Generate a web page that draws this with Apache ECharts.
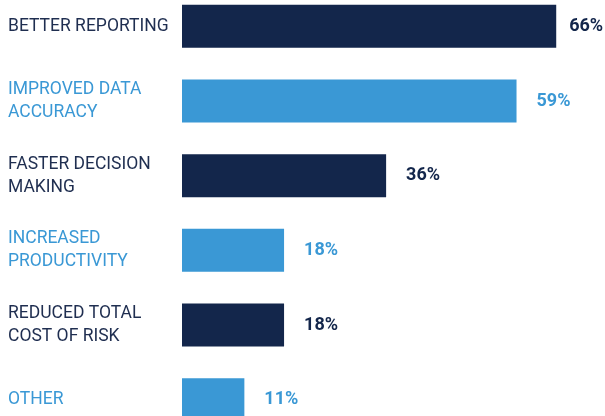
<!DOCTYPE html>
<html>
<head>
<meta charset="utf-8">
<script src="https://cdn.jsdelivr.net/npm/echarts@6/dist/echarts.min.js"></script>
<style>
  html, body { margin: 0; padding: 0; background: #ffffff; }
  #chart { width: 605px; height: 416px; }
</style>
</head>
<body>
<div id="chart"></div>
<script>
// Survey benefits, share of respondents (%)
const categories = [
  'BETTER REPORTING',
  'IMPROVED DATA\nACCURACY',
  'FASTER DECISION\nMAKING',
  'INCREASED\nPRODUCTIVITY',
  'REDUCED TOTAL\nCOST OF RISK',
  'OTHER'
];
const values = [66, 59, 36, 18, 18, 11];

// Alternating navy / light-blue rows
const NAVY = '#13264b';
const BLUE = '#3a98d5';
const NAVY_TEXT = '#1f2e50';
const rowColor = i => (i % 2 === 0 ? NAVY : BLUE);
const rowText = i => (i % 2 === 0 ? NAVY_TEXT : BLUE);

const chart = echarts.init(document.getElementById('chart'), null, { renderer: 'canvas' });

chart.setOption({
  animation: false,
  grid: {
    left: 182, top: -11, width: 567, height: 448,
    outerBoundsMode: 'none'
  },
  xAxis: {
    type: 'value', min: 0, max: 100,
    show: false
  },
  yAxis: {
    type: 'category',
    inverse: true,
    data: categories,
    axisLine: { show: false },
    axisTick: { show: false },
    splitLine: { show: false },
    axisLabel: {
      align: 'left',
      margin: 174,
      fontFamily: 'Roboto',
      fontSize: 17.5,
      lineHeight: 23,
      padding: [4, 0, 0, 0],
      color: (val, idx) => rowText(idx)
    }
  },
  series: [{
    type: 'bar',
    barWidth: 43,
    data: values.map((v, i) => ({
      value: v,
      itemStyle: { color: rowColor(i) },
      // the longest bar keeps its label tight so it stays inside the canvas
      label: { color: rowColor(i), distance: i === 0 ? 13 : 20 }
    })),
    label: {
      show: true,
      position: 'right',
      formatter: '{c}%',
      fontFamily: 'Roboto',
      fontWeight: 'bold',
      fontSize: 18
    }
  }]
});
</script>
</body>
</html>
